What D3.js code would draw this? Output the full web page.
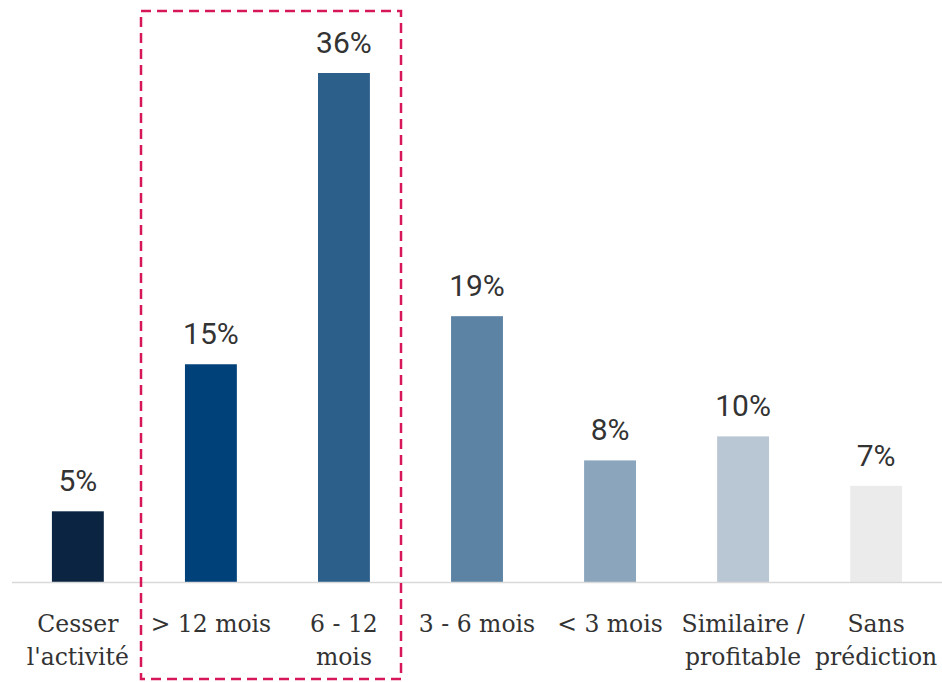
<!DOCTYPE html>
<html><head><meta charset="utf-8">
<script src="https://cdn.jsdelivr.net/npm/d3@7"></script>
<style>body{margin:0;background:#fff}</style>
</head><body>
<svg id="c" width="942" height="682"></svg>
<script>
const categories = [["Cesser","l'activité"],["> 12 mois"],["6 - 12","mois"],["3 - 6 mois"],["< 3 mois"],["Similaire /","profitable"],["Sans","prédiction"]];
const values = [5.0, 15.4, 36.0, 18.8, 8.6, 10.3, 6.8];
const valueLabels = ["5%","15%","36%","19%","8%","10%","7%"];
const colors = ["#0b2441","#00417a","#2d5f8b","#5c83a4","#8aa5bc","#b9c6d3","#ebebeb"];

const svg = d3.select("#c");
const baseY = 582, left = 12, right = 942;
const x = d3.scaleBand().domain(d3.range(categories.length)).range([12, 942]).paddingInner(0.61).paddingOuter(0.3);
const y = d3.scaleLinear().domain([0, 36]).range([baseY, 73]);

svg.selectAll("rect.bar").data(values).join("rect")
  .attr("class","bar")
  .attr("x",(d,i)=>x(i)).attr("width",x.bandwidth())
  .attr("y",d=>y(d)).attr("height",d=>baseY-y(d))
  .attr("fill",(d,i)=>colors[i]);

svg.append("line").attr("x1",left).attr("x2",right).attr("y1",baseY+0.5).attr("y2",baseY+0.5)
  .attr("stroke","#d9d9d9").attr("stroke-width",1.5);

svg.selectAll("text.val").data(values).join("text")
  .attr("class","val")
  .attr("x",(d,i)=>x(i)+x.bandwidth()/2).attr("y",d=>y(d)-20)
  .attr("text-anchor","middle").attr("fill","#333")
  .style("font-family","Roboto, sans-serif").style("font-size","30px")
  .text((d,i)=>valueLabels[i]);

const cat = svg.selectAll("text.cat").data(categories).join("text")
  .attr("class","cat")
  .attr("text-anchor","middle").attr("fill","#333")
  .style("font-family","'DejaVu Serif', serif").style("font-size","23.5px");
cat.each(function(lines,i){
  const t = d3.select(this);
  lines.forEach((l,j)=>{
    t.append("tspan").attr("x",x(i)+x.bandwidth()/2).attr("y",632+j*33).text(l);
  });
});

svg.append("rect").attr("x",141).attr("y",11).attr("width",260).attr("height",668)
  .attr("fill","none").attr("stroke","#d6185b").attr("stroke-width",2.5)
  .attr("stroke-dasharray","10,6");
</script>
</body></html>
